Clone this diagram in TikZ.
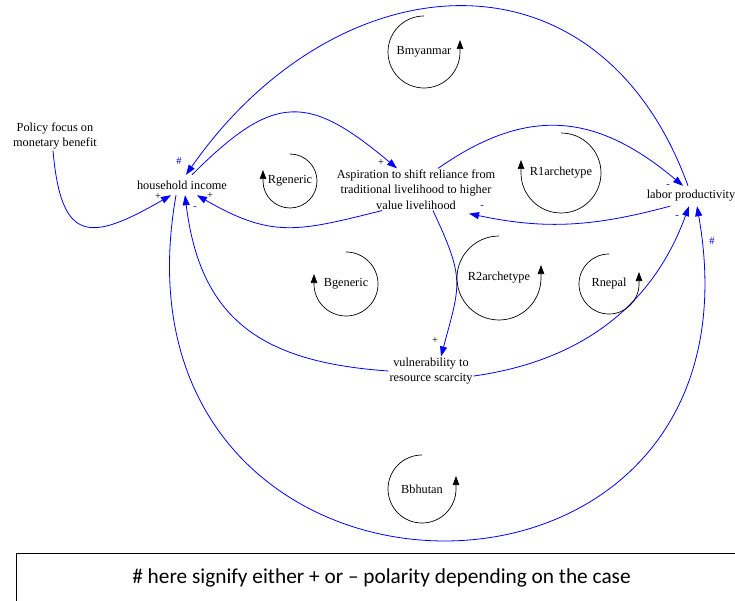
\documentclass[tikz,border=0pt]{standalone}
\usepackage{fontspec}
\setmainfont{Liberation Serif}
\newfontfamily\notefont{Carlito}
\usepackage{xcolor}
\usepackage{tikz}
\usetikzlibrary{arrows.meta}
\usetikzlibrary{positioning}
\pgfdeclarelayer{edgelayer}
\pgfdeclarelayer{nodelayer}
\pgfsetlayers{edgelayer,nodelayer,main}
\tikzstyle{none}=[inner sep=0mm]
\tikzstyle{var}=[inner sep=1pt,align=center,minimum height=20pt,font=\fontsize{12.3}{15.5}\selectfont]
\tikzstyle{loopname}=[inner sep=0pt,font=\fontsize{12.3}{15.5}\selectfont]
\tikzstyle{link}=[draw=blue,line width=0.8pt,-{Triangle[length=10pt,width=7pt]}]
\tikzstyle{looparc}=[draw=black,line width=0.7pt,-{Triangle[length=9pt,width=6.5pt]}]
\tikzstyle{possign}=[inner sep=0pt,font=\fontsize{10.5}{10.5}\selectfont]
\tikzstyle{negsign}=[possign,text=blue]
\tikzstyle{note}=[draw=black,line width=1pt,inner sep=0pt,minimum width=731pt,minimum height=50pt,font=\notefont\fontsize{21.3}{25}\selectfont]

\begin{document}
\begin{tikzpicture}[x=1pt,y=1pt]
	\useasboundingbox (0,0) rectangle (735,-601);
	\begin{pgfonlayer}{nodelayer}
		\node [style=var] (1) at (55,-136) {Policy focus on\\monetary benefit};
		\node [style=var] (2) at (182,-185) {household income};
		\node [style=var] (3) at (416,-189.5) {Aspiration to shift reliance from\\traditional livelihood to higher\\value livelihood};
		\node [style=var] (4) at (691,-196) {labor productivity};
		\node [style=var] (5) at (431,-371) {vulnerability to\\resource scarcity};
		\node [style=loopname] (6) at (424,-52) {Bmyanmar};
		\node [style=loopname] (7) at (290,-181) {Rgeneric};
		\node [style=loopname] (8) at (561,-173) {R1archetype};
		\node [style=loopname] (9) at (499,-278) {R2archetype};
		\node [style=loopname] (10) at (609,-284) {Rnepal};
		\node [style=loopname] (11) at (346,-284) {Bgeneric};
		\node [style=loopname] (12) at (422,-489) {Bbhutan};
		\node [style=negsign] (13) at (179,-161) {\#};
		\node [style=possign] (14) at (158,-197) {+};
		\node [style=possign] (15) at (210,-196) {+};
		\node [style=negsign] (16) at (195,-208) {-};
		\node [style=possign] (17) at (381,-163) {+};
		\node [style=negsign] (18) at (482,-207) {-};
		\node [style=negsign] (19) at (668,-186) {-};
		\node [style=negsign] (20) at (677,-217) {-};
		\node [style=negsign] (21) at (712,-241) {\#};
		\node [style=possign] (22) at (435,-341) {+};
		\node [style=note] (23) at (381.5,-578) {\# here signify either + or – polarity depending on the case};
	\end{pgfonlayer}
	\begin{pgfonlayer}{edgelayer}
		\draw [style=link, out=-85, in=-150, looseness=1.90] ([xshift=-2pt]1.south) to ([xshift=-11pt]2.south);
		\draw [style=link, out=45, in=140, looseness=1.45] ([xshift=10pt]2.north) to ([xshift=-19pt]3.north);
		\draw [style=link, out=194, in=-30, looseness=1.20] ([xshift=-34pt]3.south) to ([xshift=15pt]2.south);
		\draw [style=link, out=-100, in=-80, looseness=2.25] ([xshift=-6pt]2.south) to ([xshift=6pt]4.south);
		\draw [style=link, out=110, in=55, looseness=1.34] ([xshift=-3pt]4.north) to ([xshift=4pt]2.north);
		\draw [style=link, out=35, in=140, looseness=1.16] ([xshift=22pt]3.north) to ([xshift=-8pt]4.north);
		\draw [style=link, out=195, in=-12, looseness=1.00] ([xshift=-21pt]4.south) to ([xshift=53pt,yshift=-3pt]3.south);
		\draw [style=link, out=-65, in=75, looseness=1.33] ([xshift=17pt]3.south) to ([xshift=10pt]5.north);
		\draw [style=link, out=176, in=-83, looseness=1.20] (5.west) to ([xshift=3pt]2.south);
		\draw [style=link, out=8, in=-110, looseness=1.00] ([yshift=-5pt]5.east) to ([xshift=-2pt]4.south);
		% loop markers
		\draw [style=looparc] (6.center) ++(0,36) arc[start angle=90, end angle=360, radius=36] -- ++(0,12);
		\draw [style=looparc] (7.center) ++(0,27) arc[start angle=90, end angle=-180, radius=27] -- ++(0,11);
		\draw [style=looparc] (8.center) ++(0,40) arc[start angle=90, end angle=-180, radius=40] -- ++(0,13);
		\draw [style=looparc] (9.center) ++(0,42) arc[start angle=90, end angle=360, radius=42] -- ++(0,13);
		\draw [style=looparc] (10.center) ++(0,30) arc[start angle=90, end angle=360, radius=30] -- ++(0,12);
		\draw [style=looparc] (11.center) ++(0,32) arc[start angle=90, end angle=-180, radius=32] -- ++(0,10);
		\draw [style=looparc] (12.center) ++(0,34) arc[start angle=90, end angle=360, radius=34] -- ++(0,13);
	\end{pgfonlayer}
\end{tikzpicture}
\end{document}
